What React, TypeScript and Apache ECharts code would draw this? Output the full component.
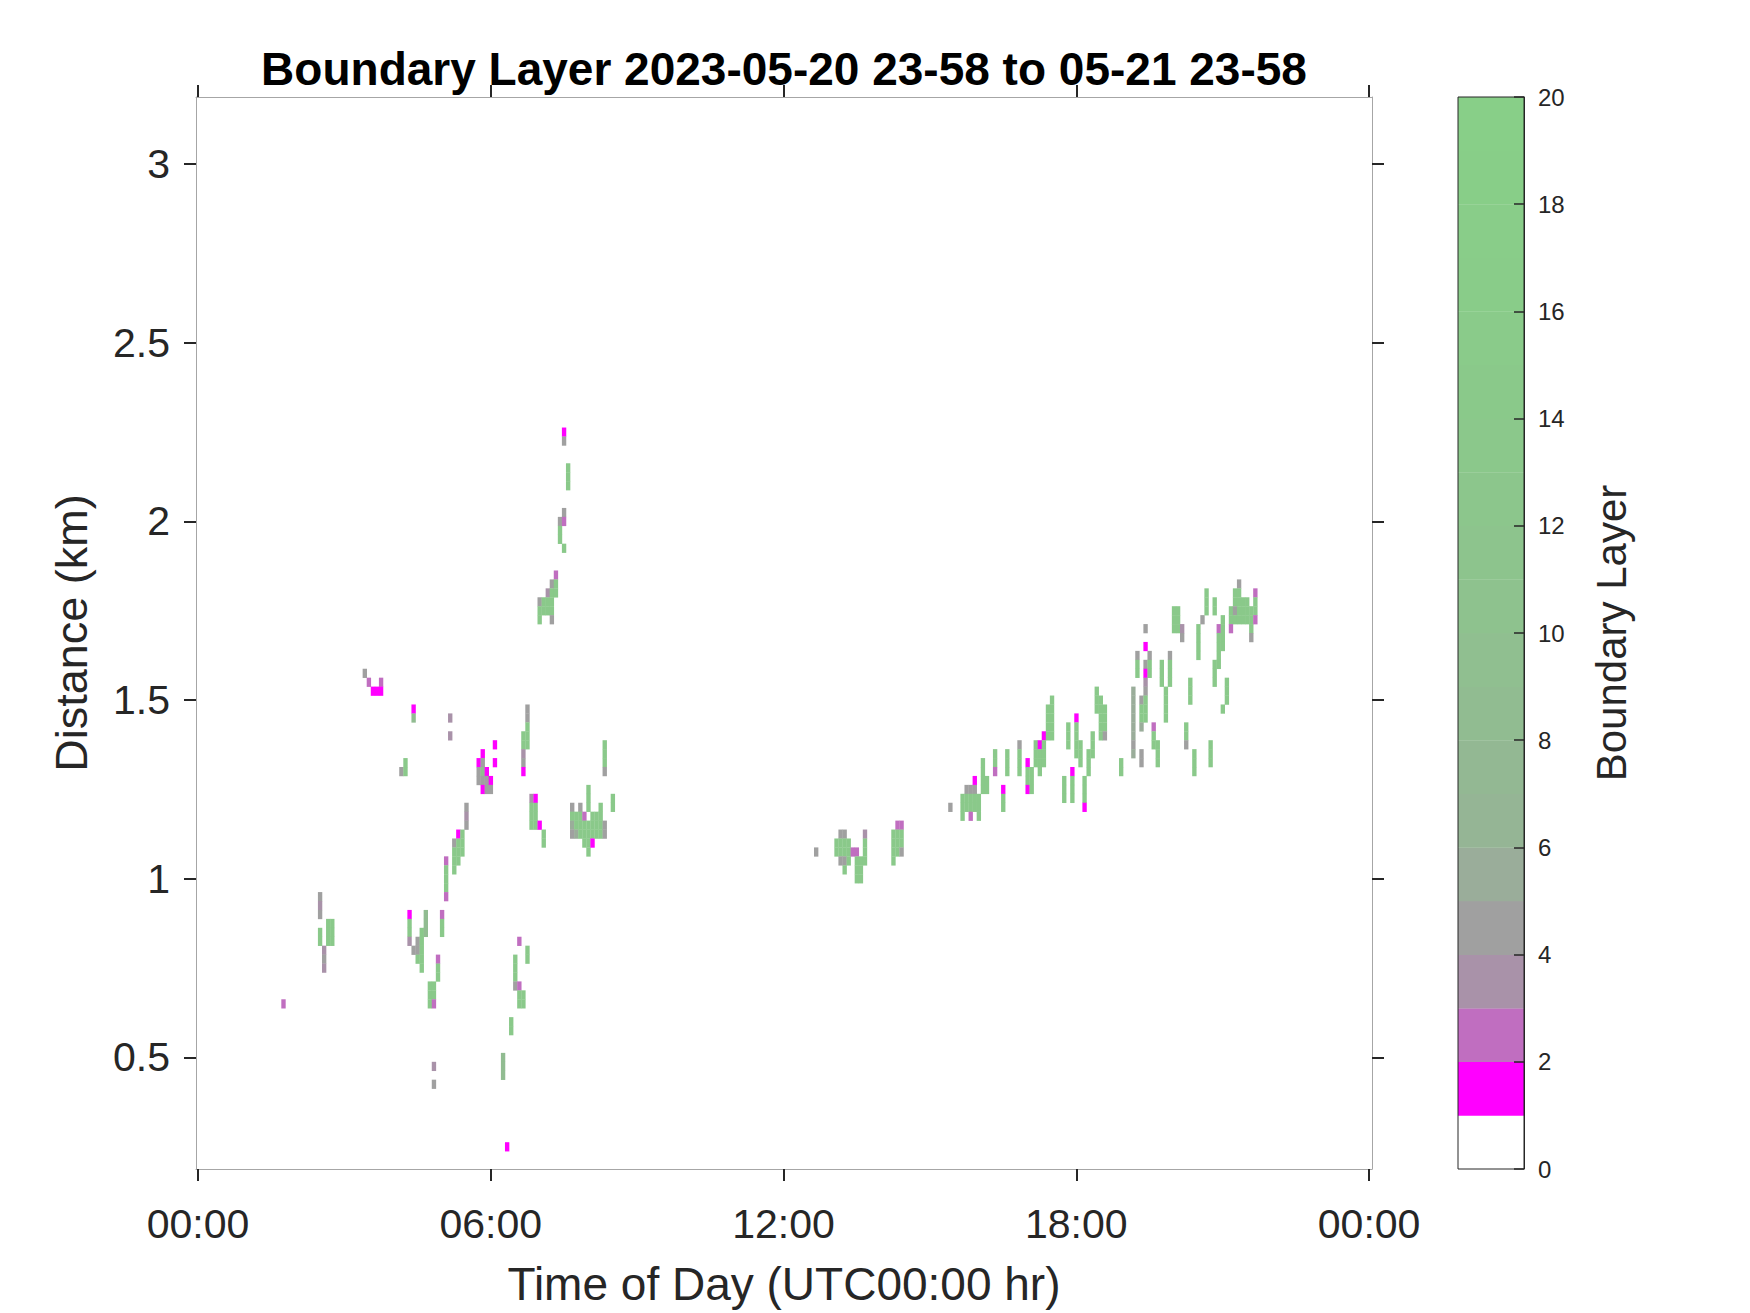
import React, { useEffect, useRef } from "react";
import * as echarts from "echarts";

const TITLE = "Boundary Layer 2023-05-20 23-58 to 05-21 23-58";
const X_NAME = "Time of Day (UTC00:00 hr)";
const Y_NAME = "Distance (km)";
const CB_NAME = "Boundary Layer";

const X_TICKS = [0, 6, 12, 18, 24];
const X_TICK_LABELS = ["00:00", "06:00", "12:00", "18:00", "00:00"];
const Y_TICKS = [0.5, 1, 1.5, 2, 2.5, 3];
const X_MIN = -0.04;
const X_MAX = 24.06;
const Y_MIN = 0.1875;
const Y_MAX = 3.1875;
const CB_MIN = 0;
const CB_MAX = 20;
const CB_INTERVAL = 2;

// grid of the measurement
const TIME_STEP_HR = 5 / 60; // 5-minute profiles
const GATE_KM = 0.025; // 25 m range gates
const FIRST_GATE_KM = 0.2;

// value codes
const M = 1.5; // magenta
const P = 2.5; // purple
const Q = 3.5; // mauve
const Y = 4.5; // grey
const S = 5.5; // grey-green
const g = 8; // mid green
const G = 14; // green

// runs: [profile index, top gate index, values going downward]
const EARLY_RUNS: [number, number, number[]][] = [
  [21, 18, [P]],
  [30, 30, [Y, Q, Y]],
  [30, 26, [G, G]],
  [31, 24, [Q, Y, Q]],
  [32, 27, [G, G, G]],
  [33, 27, [G, G, G]],
  [41, 55, [Y]],
  [42, 54, [P]],
  [43, 53, [M]],
  [44, 53, [M]],
  [45, 54, [P, M]],
  [50, 44, [Y]],
  [51, 45, [G, G]],
  [52, 28, [M, G, G, Q]],
  [53, 51, [M, g]],
  [53, 24, [Y]],
  [54, 25, [Y, Y, G]],
  [55, 26, [G, G, G, G, G]],
  [56, 28, [g, g, g]],
  [57, 20, [G, G, G]],
  [58, 20, [G, G, P]],
  [58, 11, [Q]],
  [58, 9, [Y]],
  [59, 23, [P, G, G]],
  [60, 28, [P, G, G]],
  [61, 34, [P, G, G, G, P]],
  [62, 50, [Q]],
  [62, 48, [Q]],
  [63, 36, [Y, G, G, G]],
  [64, 37, [M, G, G, G]],
  [65, 37, [G, G, G]],
  [66, 40, [Y, Q, Y]],
  [69, 45, [M, Y, Y]],
  [70, 46, [M, Y, g, Y, M]],
  [71, 44, [M, Y, Y]],
  [72, 43, [M, Y]],
  [73, 47, [M]],
  [73, 45, [M]],
  [75, 12, [g, g, g]],
  [76, 2, [M]],
  [77, 16, [G, G]],
  [78, 23, [G, G, G, Y]],
  [79, 25, [P]],
  [79, 20, [P, G, G]],
  [80, 19, [G, G]],
  [81, 24, [G, G]],
  [80, 48, [G, G, Q, Y, M]],
  [81, 51, [Y, Y, G, G, G]],
  [82, 41, [Q, G, G, G]],
  [83, 41, [M, G, G, G]],
  [84, 38, [M]],
  [85, 37, [G, G]],
  [84, 63, [Y, G, G]],
  [85, 63, [G, G]],
  [86, 64, [Q, G, G]],
  [87, 65, [Y, G, G, G, Y]],
  [88, 66, [P, G, G]],
  [89, 72, [Y, G, G]],
  [90, 73, [Y, P]],
  [90, 69, [G]],
  [91, 78, [G, G, G]],
  [90, 82, [M, Y]],
  [92, 40, [Y, G, S, Y]],
  [93, 39, [G, G, S]],
  [94, 40, [Y, G, G, G]],
  [95, 39, [P, G, G, G]],
  [96, 42, [G, G, G]],
  [96, 38, [G, G, G, G]],
  [97, 39, [G, G, G, M]],
  [98, 39, [G, G, G]],
  [99, 40, [G, G, G, G]],
  [100, 47, [G, G, G, Y]],
  [100, 38, [Y, Y]],
  [102, 41, [G, G]],
];

const MID_RUNS: [number, number, number[]][] = [
  [152, 35, [Y]],
  [157, 36, [G, G]],
  [158, 37, [Y, G, G, Y]],
  [159, 37, [Y, G, G, Y, G]],
  [160, 36, [G, G, G]],
  [161, 35, [P]],
  [162, 35, [P, G, G, G]],
  [163, 34, [G, G, G]],
  [164, 37, [Q, G, G, G]],
  [171, 37, [G, G, G, G]],
  [172, 38, [P, G, G, G]],
  [173, 38, [P, G, G, Y]],
];

const LATE_RUNS: [number, number, number[]][] = [
  [185, 40, [Y]],
  [188, 41, [G, G, G]],
  [189, 42, [Y, G, G]],
  [190, 42, [Y, G, G, P]],
  [191, 43, [M, Y, G, G]],
  [192, 41, [G, G, G]],
  [193, 45, [G, G, G, G]],
  [194, 43, [G, G]],
  [196, 46, [G, G, P]],
  [198, 42, [M, G, G]],
  [199, 46, [G, G, G]],
  [202, 47, [Y, G, G, G]],
  [204, 45, [M, G, G, M]],
  [205, 44, [G, G, G]],
  [206, 47, [G, G, G]],
  [207, 47, [M, G, G, G]],
  [208, 48, [M, G, G, G]],
  [209, 51, [G, G, G, G]],
  [210, 52, [G, G, G, G, G]],
  [213, 43, [G, G, G]],
  [214, 49, [G, G, G]],
  [215, 44, [M, G, G, G]],
  [216, 50, [M, G, G, G, G]],
  [217, 47, [G, G, G]],
  [218, 43, [G, G, G, M]],
  [219, 46, [G, G, G]],
  [220, 48, [G, G, G]],
  [221, 53, [G, G, G]],
  [222, 52, [G, G, G, G, G]],
  [223, 51, [G, G, G, Y]],
  [227, 45, [G, G]],
  [230, 53, [S, S, S, S, S, S, Y, S]],
  [231, 57, [Y, G, G]],
  [232, 52, [Y, G, G, S]],
  [232, 46, [Y, Y]],
  [233, 60, [Y]],
  [233, 58, [M]],
  [233, 56, [Y, M, Q, Y, G, G, G]],
  [234, 57, [Y, G, G]],
  [235, 49, [P, G, G]],
  [236, 47, [G, G, G]],
  [237, 56, [G, G, G]],
  [238, 53, [G, G, G, G]],
  [239, 57, [Y, G, G, G]],
  [240, 62, [G, G, G]],
  [241, 62, [G, G, G]],
  [242, 60, [Q, Y]],
  [243, 49, [G, G, Y]],
  [244, 54, [G, G, G]],
  [245, 46, [G, G, G]],
  [246, 60, [G, G, G, G]],
  [247, 61, [Y]],
  [248, 64, [G, G, G]],
  [249, 47, [G, G, G]],
  [250, 63, [G, G]],
  [250, 56, [G, G, G]],
  [251, 60, [P, G, G, G, G]],
  [252, 61, [G, G, G, G]],
  [252, 51, [G]],
  [253, 54, [G, G, G]],
  [254, 62, [G, G, P]],
  [255, 64, [G, G, Y, G]],
  [256, 65, [Y, G, G, G, G]],
  [257, 63, [G, G, G]],
  [258, 63, [G, G, G]],
  [259, 62, [G, G, G, Y]],
  [260, 64, [P, G, G, P]],
];

// colormap: one colour per unit level 0..20
const LEVEL_COLORS = [
  "#FFFFFF", "#FF00FF", "#C06EC0", "#A992A9", "#A0A0A0",
  "#9AAD9A", "#95B595", "#93B893", "#91BC91", "#90BF90",
  "#8EC28E", "#8DC48D", "#8CC68C", "#8BC88B", "#8AC98A",
  "#8ACB8A", "#89CC89", "#89CD89", "#88CE88", "#88CF88",
];

const FONT = '"Liberation Sans", Arial, Helvetica, sans-serif';
const TEXT = "#262626";
const BOX = "#a6a6a6";

function buildCells() {
  const out: number[][] = [];
  [EARLY_RUNS, MID_RUNS, LATE_RUNS].forEach((runs) => {
    runs.forEach(([c, r0, vals]) => {
      vals.forEach((v, k) => {
        out.push([c * TIME_STEP_HR, FIRST_GATE_KM + (r0 - k) * GATE_KM, v]);
      });
    });
  });
  return out;
}

export default function App() {
  const ref = useRef<HTMLDivElement>(null);
  useEffect(() => {
    document.body.style.margin = "0";
    const chart = echarts.init(ref.current!, null, { renderer: "svg" });
    const cells = buildCells();
    const levels = LEVEL_COLORS.map((_, i) => [i, i + 1, i + 0.5]);
    const tickStyle = { color: TEXT, width: 2 };
    const option: any = {
      animation: false,
      backgroundColor: "#ffffff",
      textStyle: { fontFamily: FONT },
      graphic: [
        {
          type: "text",
          x: 784,
          y: 69,
          style: {
            text: TITLE,
            font: `bold 46px ${FONT}`,
            fill: "#000000",
            align: "center",
            verticalAlign: "middle",
            textAlign: "center",
            textVerticalAlign: "middle",
          },
        },
      ],
      grid: [
        { left: 196, top: 97, width: 1176, height: 1072, show: false },
        {
          left: 1458,
          top: 97,
          width: 66,
          height: 1072,
          show: true,
          borderColor: TEXT,
          borderWidth: 1,
          backgroundColor: "transparent",
          z: 10,
        },
      ],
      visualMap: [
        {
          type: "piecewise",
          show: false,
          dimension: 2,
          seriesIndex: [0, 1],
          pieces: LEVEL_COLORS.map((color, i) =>
            i === LEVEL_COLORS.length - 1
              ? { gte: i, lte: i + 1, color }
              : { gte: i, lt: i + 1, color }
          ),
        },
      ],
      xAxis: [
        {
          type: "value",
          gridIndex: 0,
          position: "bottom",
          min: X_MIN,
          max: X_MAX,
          axisLine: { show: true, onZero: false, lineStyle: { color: BOX, width: 1 } },
          axisTick: { show: true, inside: false, length: 12, customValues: X_TICKS, lineStyle: tickStyle },
          axisLabel: {
            show: true,
            customValues: X_TICKS,
            formatter: (v: number) => X_TICK_LABELS[X_TICKS.indexOf(v)] ?? "",
            fontSize: 41,
            color: TEXT,
            margin: 34,
            fontFamily: FONT,
          },
          splitLine: { show: false },
          name: X_NAME,
          nameLocation: "middle",
          nameGap: 92,
          nameTextStyle: { fontSize: 46, color: TEXT, fontFamily: FONT },
        },
        {
          type: "value",
          gridIndex: 0,
          position: "top",
          min: X_MIN,
          max: X_MAX,
          axisLine: { show: true, onZero: false, lineStyle: { color: BOX, width: 1 } },
          axisTick: { show: true, inside: false, length: 12, customValues: X_TICKS, lineStyle: tickStyle },
          axisLabel: { show: false },
          splitLine: { show: false },
        },
        {
          type: "value",
          gridIndex: 1,
          min: 0,
          max: 1,
          show: false,
        },
      ],
      yAxis: [
        {
          type: "value",
          gridIndex: 0,
          position: "left",
          min: Y_MIN,
          max: Y_MAX,
          axisLine: { show: true, onZero: false, lineStyle: { color: BOX, width: 1 } },
          axisTick: { show: true, inside: false, length: 12, customValues: Y_TICKS, lineStyle: tickStyle },
          axisLabel: {
            show: true,
            customValues: Y_TICKS,
            formatter: (v: number) => String(v),
            fontSize: 41,
            color: TEXT,
            margin: 26,
            fontFamily: FONT,
          },
          splitLine: { show: false },
          name: Y_NAME,
          nameLocation: "middle",
          nameGap: 102,
          nameTextStyle: { fontSize: 45, color: TEXT, fontFamily: FONT },
        },
        {
          type: "value",
          gridIndex: 0,
          position: "right",
          min: Y_MIN,
          max: Y_MAX,
          axisLine: { show: true, onZero: false, lineStyle: { color: BOX, width: 1 } },
          axisTick: { show: true, inside: false, length: 12, customValues: Y_TICKS, lineStyle: tickStyle },
          axisLabel: { show: false },
          splitLine: { show: false },
        },
        {
          type: "value",
          gridIndex: 1,
          position: "right",
          min: CB_MIN,
          max: CB_MAX,
          interval: CB_INTERVAL,
          z: 10,
          axisLine: { show: true, onZero: false, lineStyle: { color: TEXT, width: 1 } },
          axisTick: { show: true, inside: true, length: 10, lineStyle: { color: TEXT, width: 1.5 } },
          axisLabel: { show: true, fontSize: 24, color: TEXT, margin: 14, fontFamily: FONT },
          splitLine: { show: false },
          name: CB_NAME,
          nameLocation: "middle",
          nameGap: 66,
          nameRotate: 90,
          nameTextStyle: { fontSize: 42, color: TEXT, fontFamily: FONT },
        },
      ],
      series: [
        {
          type: "custom",
          xAxisIndex: 0,
          yAxisIndex: 0,
          clip: true,
          encode: { x: 0, y: 1 },
          data: cells,
          renderItem: (params: any, api: any) => {
            const c = api.coord([api.value(0), api.value(1)]);
            const s = api.size([TIME_STEP_HR, GATE_KM]);
            return {
              type: "rect",
              shape: { x: c[0] - s[0] / 2, y: c[1] - s[1] / 2, width: s[0] + 0.3, height: s[1] + 0.3 },
              style: { fill: api.visual("color") },
            };
          },
        },
        {
          type: "custom",
          xAxisIndex: 2,
          yAxisIndex: 2,
          z: 1,
          encode: { y: [0, 1] },
          data: levels,
          renderItem: (params: any, api: any) => {
            const p0 = api.coord([0, api.value(0)]);
            const p1 = api.coord([1, api.value(1)]);
            return {
              type: "rect",
              shape: { x: p0[0], y: p1[1], width: p1[0] - p0[0], height: p0[1] - p1[1] + 0.3 },
              style: { fill: api.visual("color") },
            };
          },
        },
      ],
    };
    chart.setOption(option);
    return () => chart.dispose();
  }, []);
  return (
    <div
      ref={ref}
      style={{ position: "absolute", left: 0, top: 0, width: 1750, height: 1313 }}
    />
  );
}
